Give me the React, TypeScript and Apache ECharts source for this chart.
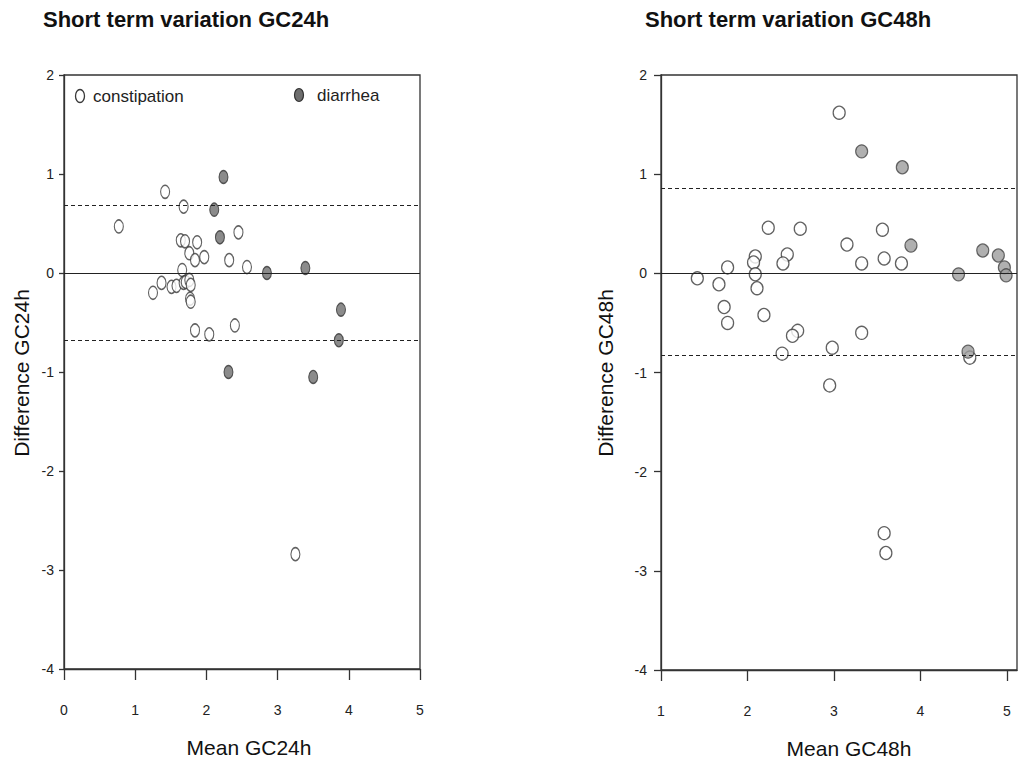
import React, { useEffect, useRef } from "react";
import * as echarts from "echarts";

// ---- Data ----
const constipation24: number[][] = [
  [0.77, 0.47], [1.42, 0.82], [1.68, 0.67], [1.64, 0.33], [1.70, 0.32], [1.87, 0.31],
  [1.76, 0.20], [1.97, 0.16], [1.84, 0.13], [2.45, 0.41], [2.32, 0.13], [2.57, 0.06],
  [1.66, 0.03], [1.37, -0.10], [1.25, -0.20], [1.51, -0.14], [1.58, -0.13], [1.68, -0.10],
  [1.71, -0.09], [1.76, -0.07], [1.78, -0.12], [1.77, -0.26], [1.78, -0.29], [1.84, -0.58],
  [2.04, -0.62], [2.40, -0.53], [3.25, -2.84],
];
const diarrhea24: number[][] = [
  [2.24, 0.97], [2.11, 0.64], [2.19, 0.36], [2.85, 0.0], [3.39, 0.05], [3.89, -0.37],
  [3.86, -0.68], [2.31, -1.0], [3.50, -1.05],
];
const constipation48: number[][] = [
  [3.06, 1.62], [2.24, 0.46], [2.61, 0.45], [3.56, 0.44], [3.15, 0.29], [2.09, 0.17],
  [2.07, 0.11], [2.46, 0.19], [2.41, 0.10], [3.58, 0.15], [3.32, 0.10], [3.78, 0.10],
  [1.77, 0.06], [1.42, -0.05], [2.09, -0.01], [1.67, -0.11], [2.11, -0.15], [1.73, -0.34],
  [1.77, -0.50], [2.19, -0.42], [2.58, -0.58], [2.52, -0.63], [3.32, -0.60], [2.40, -0.81],
  [2.98, -0.75], [4.57, -0.85], [2.95, -1.13], [3.58, -2.62], [3.60, -2.82],
];
const diarrhea48: number[][] = [
  [3.32, 1.23], [3.79, 1.07], [3.89, 0.28], [4.72, 0.23], [4.90, 0.18], [4.97, 0.06],
  [4.99, -0.02], [4.44, -0.01], [4.55, -0.79],
];
// mean difference and limits of agreement
const limits24 = [0, 0.68, -0.68];
const limits48 = [0, 0.86, -0.83];

const FONT = 'Arial, "Liberation Sans", Helvetica, sans-serif';
const AXIS = "#333";

function makeLines(vals: number[]) {
  return {
    silent: true,
    symbol: ["none", "none"],
    label: { show: false },
    emphasis: { disabled: true },
    data: vals.map((v, i) => ({
      yAxis: v,
      lineStyle: { color: "#222", width: 1, type: i === 0 ? "solid" : [4, 3] },
    })),
  };
}

export default function App() {
  const ref = useRef<HTMLDivElement>(null);
  useEffect(() => {
    if (!ref.current) return;
    const chart = echarts.init(ref.current, null, { renderer: "svg" });
    const yAxisBase = (idx: number, tickLen: number, margin: number) => ({
      type: "value",
      gridIndex: idx,
      min: -4,
      max: 2,
      interval: 1,
      splitLine: { show: false },
      axisLine: { show: true, onZero: false, lineStyle: { color: AXIS, width: 1.3 } },
      axisTick: { show: true, inside: false, length: tickLen, lineStyle: { color: AXIS, width: 1.3 } },
      axisLabel: {
        color: "#222",
        fontFamily: FONT,
        fontSize: 14,
        margin,
        padding: [10, 0, 0, 0],
      },
    });
    const xAxisBase = (idx: number, min: number, max: number) => ({
      type: "value",
      gridIndex: idx,
      min,
      max,
      interval: 1,
      splitLine: { show: false },
      axisLine: { show: true, onZero: false, lineStyle: { color: AXIS, width: 1.3 } },
      axisTick: { show: true, inside: false, length: 11, lineStyle: { color: AXIS, width: 1.3 } },
      axisLabel: {
        color: "#222",
        fontFamily: FONT,
        fontSize: 14,
        margin: 34,
        showMaxLabel: max === Math.round(max),
        formatter: (v: number) => (Math.abs(v - Math.round(v)) < 1e-6 ? String(Math.round(v)) : ""),
      },
    });
    const openStyle = { color: "#ffffff", borderColor: "#3a3a3a", borderWidth: 1.3 };
    const option: any = {
      animation: false,
      backgroundColor: "#ffffff",
      grid: [
        { left: 64, top: 75, width: 356, height: 594, show: true, borderColor: AXIS, borderWidth: 1.3, backgroundColor: "transparent" },
        { left: 661, top: 75, width: 356, height: 595, show: true, borderColor: AXIS, borderWidth: 1.3, backgroundColor: "transparent" },
      ],
      xAxis: [xAxisBase(0, 0, 5), xAxisBase(1, 1, 5.116)],
      yAxis: [yAxisBase(0, 5, 10), yAxisBase(1, 7, 14)],
      series: [
        {
          name: "constipation",
          type: "scatter",
          xAxisIndex: 0,
          yAxisIndex: 0,
          symbol: "circle",
          symbolSize: [9, 13],
          itemStyle: openStyle,
          data: constipation24,
          markLine: makeLines(limits24),
        },
        {
          name: "diarrhea",
          type: "scatter",
          xAxisIndex: 0,
          yAxisIndex: 0,
          symbol: "circle",
          symbolSize: [9, 13],
          itemStyle: { color: "#6e6e6e", borderColor: "#333", borderWidth: 1.2 },
          data: diarrhea24,
        },
        {
          name: "constipation",
          type: "scatter",
          xAxisIndex: 1,
          yAxisIndex: 1,
          symbol: "circle",
          symbolSize: [12, 13],
          itemStyle: openStyle,
          data: constipation48,
          markLine: makeLines(limits48),
        },
        {
          name: "diarrhea",
          type: "scatter",
          xAxisIndex: 1,
          yAxisIndex: 1,
          symbol: "circle",
          symbolSize: [12, 13],
          itemStyle: { color: "#9c9c9c", borderColor: "#444", borderWidth: 1.2 },
          data: diarrhea48,
        },
      ],
      graphic: [
        { type: "text", left: 43, top: 8, style: { text: "Short term variation GC24h", font: `bold 22px ${FONT}`, fill: "#111" } },
        { type: "text", left: 645, top: 8, style: { text: "Short term variation GC48h", font: `bold 22px ${FONT}`, fill: "#111" } },
        { type: "text", x: 249, y: 747, style: { text: "Mean GC24h", font: `21px ${FONT}`, fill: "#111", align: "center", verticalAlign: "middle" } },
        { type: "text", x: 849, y: 748, style: { text: "Mean GC48h", font: `21px ${FONT}`, fill: "#111", align: "center", verticalAlign: "middle" } },
        { type: "text", x: 21, y: 373, rotation: Math.PI / 2, style: { text: "Difference GC24h", font: `21px ${FONT}`, fill: "#111", align: "center", verticalAlign: "middle" } },
        { type: "text", x: 605, y: 373, rotation: Math.PI / 2, style: { text: "Difference GC48h", font: `21px ${FONT}`, fill: "#111", align: "center", verticalAlign: "middle" } },
        // legend
        { type: "ellipse", shape: { cx: 80, cy: 96, rx: 4.5, ry: 6.5 }, style: { fill: "#fff", stroke: "#3a3a3a", lineWidth: 1.3 } },
        { type: "text", x: 93, y: 96, style: { text: "constipation", font: `17px ${FONT}`, fill: "#222", verticalAlign: "middle" } },
        { type: "ellipse", shape: { cx: 299, cy: 95, rx: 4.5, ry: 6.5 }, style: { fill: "#6e6e6e", stroke: "#333", lineWidth: 1.2 } },
        { type: "text", x: 317, y: 95, style: { text: "diarrhea", font: `17px ${FONT}`, fill: "#222", verticalAlign: "middle" } },
      ],
    };
    chart.setOption(option);
    return () => chart.dispose();
  }, []);
  return (
    <div
      ref={ref}
      style={{ position: "absolute", left: 0, top: 0, width: 1034, height: 762, background: "#fff" }}
    />
  );
}
